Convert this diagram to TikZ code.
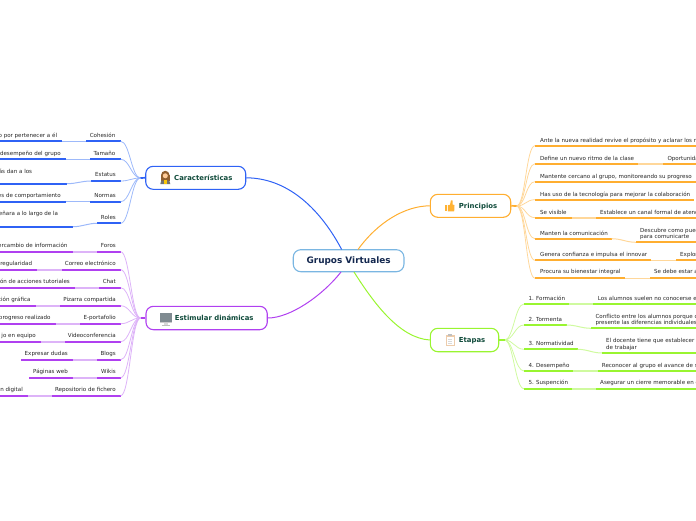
\documentclass[tikz,border=0pt]{standalone}
\usepackage{fontspec}
\setmainfont{DejaVu Sans}
\tikzset{
  rootbox/.style={draw=#1,line width=1.1pt,rounded corners=7.5pt,fill=white,inner sep=0pt},
  label/.style={inner sep=0pt,yshift=-0.6pt,font=\fontsize{5.55}{6.5}\selectfont,text=black!85,text height=4pt,text depth=1pt},
  branchlabel/.style={inner sep=0pt,font=\fontsize{6.9}{8}\selectfont\bfseries,text=darkgreen},
  underline/.style={draw=#1,line width=1.7pt},
  link/.style={draw=#1,line width=0.8pt},
  bridge/.style={draw=#1,line width=1.7pt},
  stub/.style={draw=#1,line width=1.7pt},
  fan/.style={out distance=9pt,in distance=9pt},
}
\definecolor{darkgreen}{HTML}{0F4A3A}
\definecolor{navy}{HTML}{14284F}
\definecolor{cblue}{HTML}{2F62F5}
\definecolor{cblueL}{HTML}{9DB9FA}
\definecolor{cpurple}{HTML}{B040F0}
\definecolor{cpurpleL}{HTML}{DDB3F8}
\definecolor{corange}{HTML}{FFAE30}
\definecolor{corangeL}{HTML}{FFD79A}
\definecolor{cgreen}{HTML}{99F530}
\definecolor{cgreenL}{HTML}{CFFA9F}
\definecolor{rootborder}{HTML}{7AB6E2}
% name, y, x start, x end, colour
\newcommand{\uline}[5]{%
  \coordinate (#1-a) at (#3,#2);
  \coordinate (#1-b) at (#4,#2);
  \draw[underline=#5] (#1-a) -- (#1-b);
}
% name, x right, y, text
\newcommand{\ltext}[4]{\node[label,anchor=east] (#1) at (#2,#3) {#4};}
% name, x left, y, text
\newcommand{\rtext}[4]{\node[label,anchor=west] (#1) at (#2,#3) {#4};}
\begin{document}
\begin{tikzpicture}[x=1pt,y=-1pt]
\useasboundingbox (0,0) rectangle (696,520);
\clip (0,0) rectangle (696,520);
% ---------- nodes
\node[rootbox=rootborder,minimum width=110.7pt,minimum height=22pt,font=\fontsize{8.9}{10}\selectfont\bfseries,text=navy] (root) at (348.6,260.7) {Grupos Virtuales};
\node[rootbox=cblue,minimum width=100pt,minimum height=23pt] (cara) at (195.7,177.8) {};
\node[rootbox=cpurple,minimum width=121.3pt,minimum height=23.4pt] (esti) at (206.6,318) {};
\node[rootbox=corange,minimum width=80.4pt,minimum height=23pt] (prin) at (470.5,205.8) {};
\node[rootbox=cgreen,minimum width=68.4pt,minimum height=23.4pt] (etap) at (464.5,340) {};
% ---------- main links
\coordinate (rb) at (341.7,249.5);
\coordinate (ro) at (358,249.5);
\coordinate (rp) at (341,272);
\coordinate (rg) at (354,272);
\draw[draw=cblue,line width=1pt] (cara.east) .. controls (285,178) and (318,205) .. (rb);
\draw[draw=cpurple,line width=1pt] (esti.east) .. controls (290,318) and (322,296) .. (rp);
\draw[draw=corange,line width=1pt] (prin.west) .. controls (405,206) and (378,222) .. (ro);
\draw[draw=cgreen,line width=1pt] (etap.west) .. controls (400,338) and (375,305) .. (rg);
% ---------- branch labels and icons
\node[branchlabel,anchor=west] (caral) at (174,178) {Características};
\node[branchlabel,anchor=west] (estil) at (174.7,318.2) {Estimular dinámicas};
\node[branchlabel,anchor=west] (prinl) at (458.7,206.2) {Principios};
\node[branchlabel,anchor=west] (etapl) at (458.7,340.3) {Etapas};
% woman
\fill[brown!75!black] (165.3,175) circle (4.2);
\fill[brown!75!black] (161.1,175) rectangle (169.5,181);
\fill[black!55] (160.3,184) -- (161.3,180.5) -- (169.3,180.5) -- (170.3,184) -- cycle;
\fill[yellow!60!orange] (163.9,180) rectangle (166.7,184);
\fill[orange!40!white] (165.3,175.8) circle (2.5);
% computer
\fill[black!45!cyan!25!gray] (159.6,313) rectangle (172.2,322.4);
\fill[black!20] (159.6,322.4) rectangle (172.2,323.2);
\fill[black!15] (164,323.2) rectangle (167.8,324.8);
\fill[black!25] (161.5,324.8) rectangle (170.3,325.8);
% thumb
\fill[orange!75!yellow!80!white] (445.3,205.4) rectangle (447.4,211.2);
\fill[orange!75!yellow!80!white] (447.9,205.2) -- (450,204.8) -- (451,200.3) -- (452.5,200.5) -- (452.6,204.6) -- (454.5,205) -- (454.2,211.4) -- (447.9,211.4) -- cycle;
% clipboard
\fill[orange!30!brown!40!white] (445.8,335) rectangle (454.6,346.2);
\fill[white] (446.8,336.5) rectangle (453.6,345.2);
\fill[black!25] (448,334.2) rectangle (452.4,336.2);
\foreach \yy in {338.5,340.5,342.5} \fill[black!15] (448,\yy) rectangle (452.4,\yy+0.6);
% ---------- Características rows
\coordinate (carahub) at (140.5,178);
\uline{c1}{141.3}{86}{120.7}{cblue}
\uline{c2}{159.3}{90}{120.7}{cblue}
\uline{c3}{181}{91}{120.7}{cblue}
\uline{c4}{201.7}{90}{120.7}{cblue}
\uline{c5}{223.3}{97}{120.7}{cblue}
\uline{c1x}{141.3}{0}{62}{cblue}
\uline{c2x}{159.3}{0}{66}{cblue}
\uline{c3x}{183.7}{0}{67}{cblue}
\uline{c4x}{201.7}{0}{66}{cblue}
\uline{c5x}{226.7}{0}{73}{cblue}
\foreach \n in {c1,c2,c3,c4,c5} {
  \draw[link=cblueL] (carahub) to[out=180,in=0,fan] (\n-b);
  \draw[link=cblueL,line width=1pt] (\n x-b) to[out=0,in=180] (\n-a);
}
\draw[stub=cblue] (cara.west) -- (carahub);
\ltext{c1t}{115.5}{135}{Cohesión}
\ltext{c2t}{115.5}{153}{Tamaño}
\ltext{c3t}{116}{174}{Estatus}
\ltext{c4t}{116}{195}{Normas}
\ltext{c5t}{116}{217}{Roles}
\ltext{c1xt}{57.3}{135}{o por pertenecer a él}
\ltext{c2xt}{61}{153}{ desempeño del grupo}
\ltext{c3xt}{32.3}{171}{ás dan a los}
\ltext{c4xt}{61}{195}{es de comportamiento}
\ltext{c5xt}{58.3}{213}{eñara a lo largo de la}
% ---------- Estimular rows
\coordinate (estihub) at (140.5,318);
\uline{e1}{251.7}{96.7}{120.7}{cpurple}
\uline{e2}{269.7}{61.7}{120.7}{cpurple}
\uline{e3}{287.7}{99}{120.7}{cpurple}
\uline{e4}{305.7}{60}{120.7}{cpurple}
\uline{e5}{323.7}{80}{120.7}{cpurple}
\uline{e6}{341.7}{65.3}{120.7}{cpurple}
\uline{e7}{359.7}{96.7}{120.7}{cpurple}
\uline{e8}{377.7}{96.7}{120.7}{cpurple}
\uline{e9}{395.7}{52}{120.7}{cpurple}
\uline{e1x}{251.7}{0}{72.7}{cpurple}
\uline{e2x}{269.7}{0}{37.3}{cpurple}
\uline{e3x}{287.7}{0}{75}{cpurple}
\uline{e4x}{305.7}{0}{36}{cpurple}
\uline{e5x}{323.7}{0}{55.7}{cpurple}
\uline{e6x}{341.7}{0}{41}{cpurple}
\uline{e7x}{359.7}{21}{72.7}{cpurple}
\uline{e8x}{377.7}{29.3}{72.7}{cpurple}
\uline{e9x}{395.7}{0}{28}{cpurple}
\foreach \n in {e1,e2,e3,e4,e5,e6,e7,e8,e9} {
  \draw[link=cpurpleL] (estihub) to[out=180,in=0,fan] (\n-b);
  \draw[bridge=cpurpleL] (\n x-b) -- (\n-a);
}
\draw[stub=cpurple] (esti.west) -- (estihub);
\ltext{e1t}{116}{245}{Foros}
\ltext{e2t}{116}{263}{Correo electrónico}
\ltext{e3t}{116}{281}{Chat}
\ltext{e4t}{116}{299}{Pizarra compartida}
\ltext{e5t}{116}{317}{E-portafolio}
\ltext{e6t}{116}{335}{Videoconferencia}
\ltext{e7t}{116}{353}{Blogs}
\ltext{e8t}{116}{371}{Wikis}
\ltext{e9t}{116}{389}{Repositorio de fichero}
\ltext{e1xt}{67.7}{245}{ercambio de información}
\ltext{e2xt}{32.3}{263}{ regularidad}
\ltext{e3xt}{70}{281}{ión de acciones tutoriales}
\ltext{e4xt}{30.7}{299}{ción gráfica}
\ltext{e5xt}{50.7}{317}{progreso realizado}
\ltext{e6xt}{36}{335}{jo en equipo}
\ltext{e7xt}{68}{353}{Expresar dudas}
\ltext{e8xt}{68}{371}{Páginas web}
\ltext{e9xt}{23}{389}{n digital}
% ---------- Principios rows
\coordinate (prinhub) at (516.5,206);
\uline{p1}{145.7}{535}{696}{corange}
\uline{p2}{163.7}{535}{638.3}{corange}
\uline{p3}{181.7}{535}{696}{corange}
\uline{p4}{199.7}{535}{694}{corange}
\uline{p5}{217.7}{535}{572}{corange}
\uline{p6}{238.7}{535}{611.7}{corange}
\uline{p7}{260.3}{535}{651}{corange}
\uline{p8}{278.3}{535}{625}{corange}
\uline{p2x}{163.7}{663}{696}{corange}
\uline{p5x}{217.7}{596}{696}{corange}
\uline{p6x}{242.3}{636}{696}{corange}
\uline{p7x}{260.3}{676}{696}{corange}
\uline{p8x}{278.3}{650}{696}{corange}
\foreach \n in {p1,p2,p3,p4,p5,p6,p7,p8}
  \draw[link=corangeL] (prinhub) to[out=0,in=180,fan] (\n-a);
\foreach \n in {p2,p5}
  \draw[bridge=corangeL] (\n-b) -- (\n x-a);
\foreach \n in {p6,p7,p8}
  \draw[link=corangeL,line width=1pt] (\n-b) to[out=0,in=180] (\n x-a);
\draw[stub=corange] (prin.east) -- (prinhub);
\rtext{p1t}{540}{140}{Ante la nueva realidad revive el propósito y aclarar los r}
\rtext{p2t}{540}{158}{Define un nuevo ritmo de la clase}
\rtext{p3t}{540}{176}{Mantente cercano al grupo, monitoreando su progreso}
\rtext{p4t}{540}{194}{Has uso de la tecnología para mejorar la colaboración}
\rtext{p5t}{540}{212}{Se visible}
\rtext{p6t}{540}{233}{Manten la comunicación}
\rtext{p7t}{540}{254}{Genera confianza e impulsa el innovar}
\rtext{p8t}{540}{271.7}{Procura su bienestar integral}
\rtext{p2xt}{667.3}{158}{Oportunida}
\rtext{p5xt}{600}{212}{Establece un canal formal de atenc}
\rtext{p6xt}{640}{230}{Descubre como pued}
\rtext{p6yt}{640}{236.2}{para comunicarte}
\rtext{p7xt}{680}{254}{Explor}
\rtext{p8xt}{654}{271.7}{Se debe estar a}
% ---------- Etapas rows
\coordinate (etaphub) at (504.5,340);
\uline{g1}{304}{524}{569.3}{cgreen}
\uline{g2}{325}{524}{566.7}{cgreen}
\uline{g3}{349.3}{524}{577.7}{cgreen}
\uline{g4}{371}{524}{573.3}{cgreen}
\uline{g5}{388.7}{524}{572}{cgreen}
\uline{g1x}{304}{593.3}{696}{cgreen}
\uline{g2x}{328.3}{591}{696}{cgreen}
\uline{g3x}{353}{602}{696}{cgreen}
\uline{g4x}{371}{597.7}{696}{cgreen}
\uline{g5x}{388.7}{596}{696}{cgreen}
\foreach \n in {g1,g2,g3,g4,g5} {
  \draw[link=cgreenL] (etaphub) to[out=0,in=180,fan] (\n-a);
}
\foreach \n in {g1,g4,g5} \draw[bridge=cgreenL] (\n-b) -- (\n x-a);
\foreach \n in {g2,g3} \draw[link=cgreenL,line width=1pt] (\n-b) to[out=0,in=180] (\n x-a);
\draw[stub=cgreen] (etap.east) -- (etaphub);
\rtext{g1t}{528.3}{298}{1. Formación}
\rtext{g2t}{528.3}{319}{2. Tormenta}
\rtext{g3t}{528.3}{343}{3. Normatividad}
\rtext{g4t}{528.3}{365}{4. Desempeño}
\rtext{g5t}{528.3}{382.7}{5. Suspención}
\rtext{g1xt}{597.7}{298}{Los alumnos suelen no conocerse e}
\rtext{g2xt}{595.3}{316}{Conflicto entre los alumnos porque c}
\rtext{g2yt}{595.3}{322.3}{presente las diferencias individuales}
\rtext{g3xt}{606}{340}{El docente tiene que establecer r}
\rtext{g3yt}{606}{347}{de trabajar}
\rtext{g4xt}{601.7}{365}{Reconocer al grupo el avance de s}
\rtext{g5xt}{600}{382.7}{Asegurar un cierre memorable en e}
\end{tikzpicture}
\end{document}
